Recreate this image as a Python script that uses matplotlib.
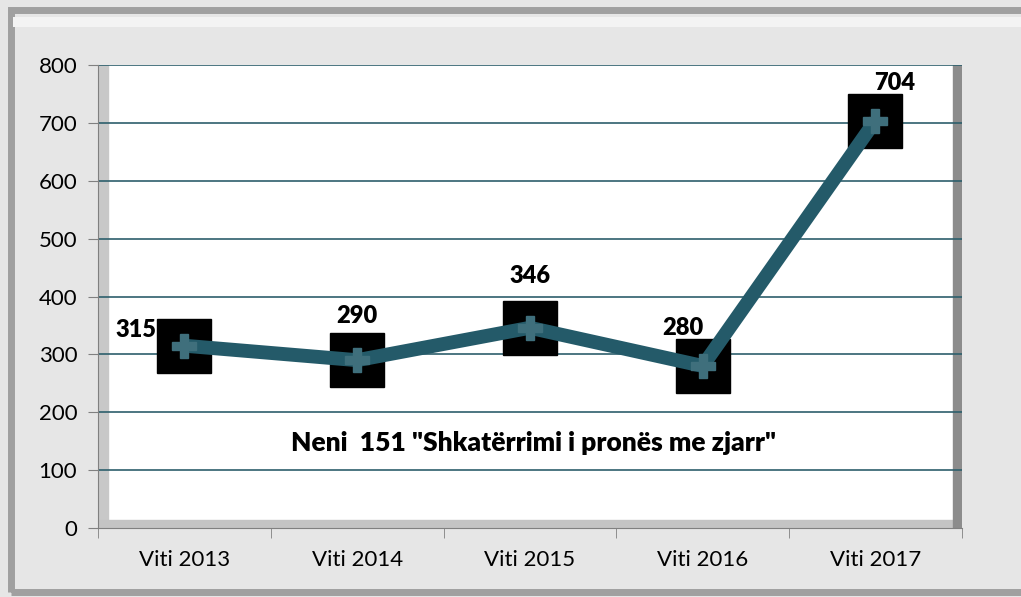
import numpy as np
import matplotlib.pyplot as plt
from matplotlib.patches import Rectangle

# Data
Years = ['Viti 2013', 'Viti 2014', 'Viti 2015', 'Viti 2016', 'Viti 2017']
Cases = [315, 290, 346, 280, 704]
Title = 'Neni  151 "Shkatërrimi i pronës me zjarr"'
# Label offsets (points) for the value labels
LabelOffsets = [(-35, 11), (0, 32), (0, 37), (-14, 27), (14, 27)]

LineColor = '#245a69'
GridColor = '#2d5f6c'
plt.rcParams['font.family'] = ['Lato', 'DejaVu Sans']

fig = plt.figure(figsize=(10.21, 5.97), dpi=100)
fig.patch.set_facecolor('#e6e6e6')
# outer frame
fig.patches.append(Rectangle((0.0105, 0.0085), 1.1, 0.974, transform=fig.transFigure,
                             fill=False, edgecolor='#a0a0a0', linewidth=5))
fig.patches.append(Rectangle((0.013, 0.955), 0.99, 0.016, transform=fig.transFigure,
                             color='#f3f3f3', linewidth=0))

ax = fig.add_axes([0.096, 0.1156, 0.846, 0.7754])
ax.set_facecolor('white')
x = np.arange(len(Years))

# fake 3D walls
ax.add_patch(Rectangle((0, 0), 0.011, 1, transform=ax.transAxes, color='#c8c8c8', zorder=0))
ax.add_patch(Rectangle((0, 0), 1, 0.018, transform=ax.transAxes, color='#c4c4c4', zorder=0))
ax.add_patch(Rectangle((0.99, 0), 0.01, 1, transform=ax.transAxes, color='#8c8c8c', zorder=0))

ax.set_ylim(0, 800)
ax.set_xlim(-0.5, len(Years) - 0.5)
ax.set_yticks(np.arange(0, 801, 100))
for yv in np.arange(100, 801, 100):
    ax.axhline(yv, color=GridColor, linewidth=1.2, zorder=1)

ax.plot(x, Cases, color=LineColor, linewidth=10, solid_capstyle='butt', zorder=3)
ax.plot(x, Cases, linestyle='none', marker='s', markersize=39, color='black', zorder=2)
ax.plot(x, Cases, linestyle='none', marker='P', markersize=17, color='#3f6f7c', zorder=4)

for xi, v, off in zip(x, Cases, LabelOffsets):
    ax.annotate(str(v), (xi, v), xytext=off, textcoords='offset points', ha='center',
                va='center', fontsize=17, fontweight='heavy', zorder=5)

ax.text(2.02, 147, Title, ha='center', va='center', fontsize=19, fontweight='heavy', zorder=5)

ax.set_xticks(x)
ax.set_xticklabels(Years, fontsize=16)
ax.set_xticks(np.arange(-0.5, len(Years)), minor=True)
ax.tick_params(axis='x', which='major', length=0, pad=16)
ax.tick_params(axis='x', which='minor', length=7, color='#808080')
ax.tick_params(axis='y', labelsize=16, length=7, color='#808080', pad=8)
for s in ['top', 'right']:
    ax.spines[s].set_visible(False)
ax.spines['left'].set_color('#808080')
ax.spines['bottom'].set_color('#808080')

fig.savefig('out.png', dpi=100, facecolor=fig.get_facecolor())
